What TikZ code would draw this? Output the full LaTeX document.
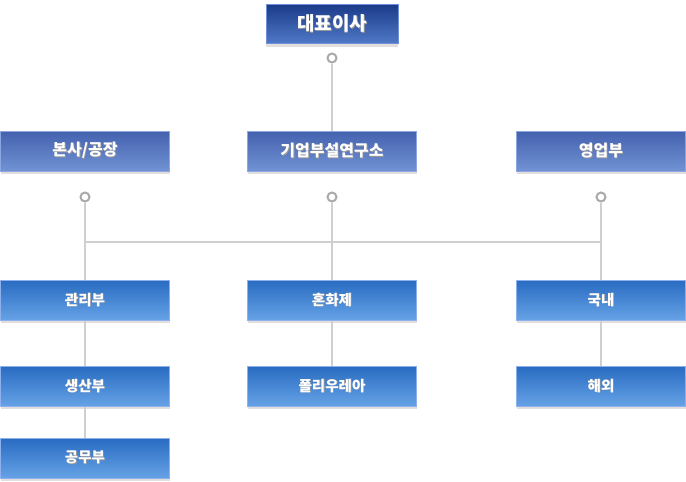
\documentclass[tikz,border=0pt]{standalone}
\usepackage{fontspec}
\setmainfont{Noto Sans CJK KR}
\usetikzlibrary{shadows,positioning}

\definecolor{ceotop}{HTML}{1B3B8A}
\definecolor{ceobot}{HTML}{5079C6}
\definecolor{ceoline}{HTML}{6F8FD6}
\definecolor{depttop}{HTML}{4461AE}
\definecolor{deptbot}{HTML}{7193D4}
\definecolor{deptline}{HTML}{8CA6E2}
\definecolor{teamtop}{HTML}{286BC1}
\definecolor{teambot}{HTML}{66A2E6}
\definecolor{teamline}{HTML}{8EB1EE}
\definecolor{linkgray}{HTML}{CFCFCF}
\definecolor{dotgray}{HTML}{AAAAAA}
\definecolor{shadegray}{HTML}{E2DEDE}

% white label with a soft dark drop
\newcommand{\droptext}[1]{\makebox[0pt][l]{\hspace{0.8pt}\raisebox{-0.8pt}{\color{black!40}#1}}#1}

\tikzset{
  orgbox/.style={minimum height=40pt, inner sep=0pt, text=white, line width=1pt,
    general shadow={fill=shadegray, shadow yshift=-3pt}},
  ceobox/.style={orgbox, minimum width=132pt, minimum height=39pt, draw=ceoline,
    top color=ceotop, bottom color=ceobot, font=\bfseries\fontsize{19pt}{21pt}\selectfont},
  deptbox/.style={orgbox, minimum width=169pt, draw=deptline,
    top color=depttop, bottom color=deptbot, font=\bfseries\fontsize{16pt}{18pt}\selectfont},
  teambox/.style={orgbox, minimum width=169pt, draw=teamline,
    top color=teamtop, bottom color=teambot, font=\bfseries\fontsize{14.5pt}{16pt}\selectfont},
  knob/.style={circle, draw=dotgray, fill=white, line width=2pt, minimum size=9pt, inner sep=0pt},
  link/.style={draw=linkgray, line width=2pt}
}

\begin{document}
\begin{tikzpicture}[x=1pt,y=-1pt]
\useasboundingbox (0,0) rectangle (686,482);

\coordinate (midl) at (85,242);
\coordinate (midr) at (601,242);

\node[ceobox] (ceo) at (332,24) {\droptext{대표이사}};

\node[deptbox] (hq) at (85,151) {\droptext{본사/공장}};
\node[deptbox] (lab) at (332,151) {\droptext{기업부설연구소}};
\node[deptbox] (sales) at (601,151) {\droptext{영업부}};

\node[teambox] (admin) at (85,300) {\droptext{관리부}};
\node[teambox] (prod) at (85,386) {\droptext{생산부}};
\node[teambox] (works) at (85,458) {\droptext{공무부}};
\node[teambox] (admix) at (332,300) {\droptext{혼화제}};
\node[teambox] (polyurea) at (332,386) {\droptext{폴리우레아}};
\node[teambox] (domestic) at (601,300) {\droptext{국내}};
\node[teambox] (overseas) at (601,386) {\droptext{해외}};

% knobs under the heads
\node[knob] (ceoknob) at (332,58) {};
\node[knob] (hqknob) at (85,197) {};
\node[knob] (labknob) at (332,197) {};
\node[knob] (salesknob) at (601,197) {};

\path[link] (ceoknob) -- (lab.north);
\path[link] (midl) -- (midr);
\path[link] (hqknob) -- (admin.north);
\path[link] (labknob) -- (admix.north);
\path[link] (salesknob) -- (domestic.north);
\path[link] (admin.south) -- (prod.north);
\path[link] (prod.south) -- (works.north);
\path[link] (admix.south) -- (polyurea.north);
\path[link] (domestic.south) -- (overseas.north);
\end{tikzpicture}
\end{document}
